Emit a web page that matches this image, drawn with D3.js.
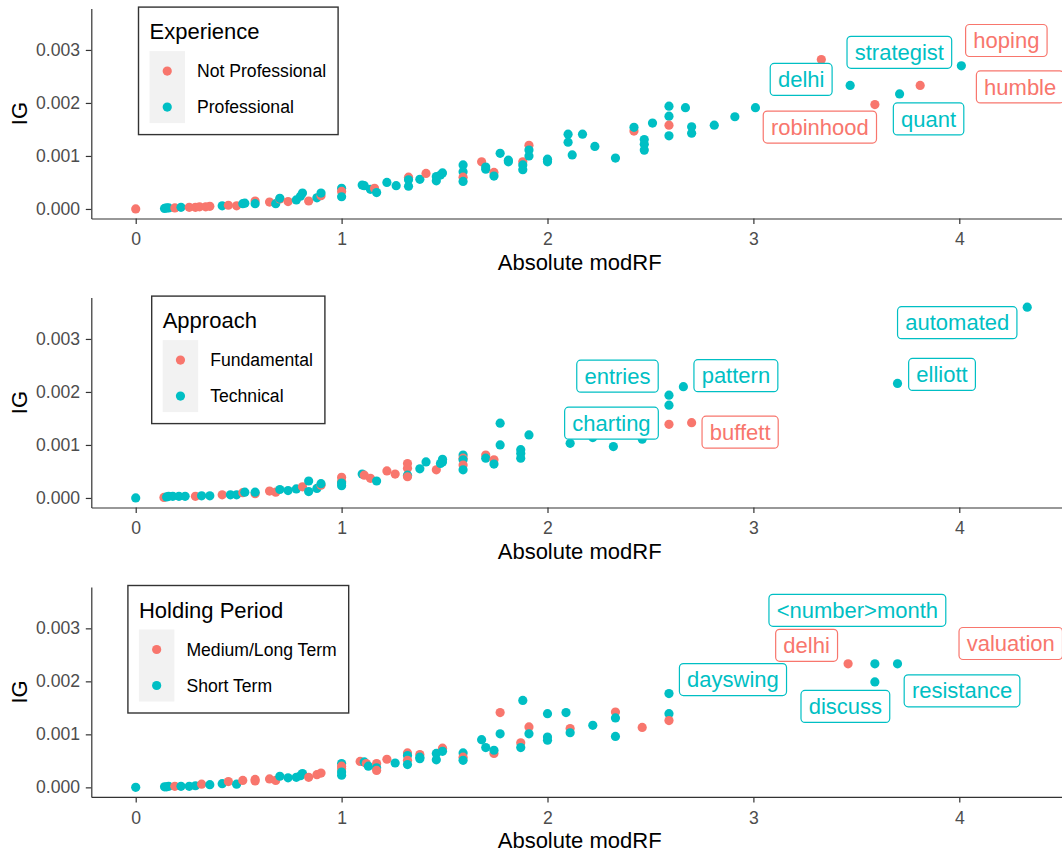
<!DOCTYPE html>
<html>
<head>
<meta charset="utf-8">
<script src="https://cdn.jsdelivr.net/npm/d3@7"></script>
<style>
  html, body { margin: 0; padding: 0; background: #fff; overflow: hidden; }
  svg { display: block; font-family: "Liberation Sans", Arial, Helvetica, sans-serif; }
</style>
</head>
<body>
<svg id="chart" width="1062" height="854"></svg>
<script>
// ---------- shared axis ticks ----------
const xTicks = [0, 1, 2, 3, 4];
const yTicks = [0, 0.001, 0.002, 0.003];
const groupColours = ["#F8766D", "#00BFC4"];

// ---------- panel 1: Experience ----------
const p1Title = "Experience";
const p1Categories = ["Not Professional", "Professional"];
const p1ModRF = [0, 0.14, 0.15, 0.16, 0.19, 0.22, 0.26, 0.29, 0.31, 0.34, 0.36, 0.42, 0.45, 0.49, 0.52, 0.53,
  0.58, 0.58, 0.65, 0.68, 0.70, 0.70, 0.74, 0.78, 0.80, 0.81, 0.84, 0.88, 0.90, 0.90, 1.0, 1.0, 1.0,
  1.10, 1.11, 1.14, 1.16, 1.17, 1.22, 1.265, 1.325, 1.325, 1.325, 1.38, 1.41, 1.46, 1.46, 1.48, 1.49,
  1.59, 1.59, 1.59, 1.59, 1.68, 1.70, 1.70, 1.74, 1.74, 1.77, 1.81, 1.81, 1.88, 1.88, 1.88, 1.91, 1.91, 1.91,
  2.0, 2.0, 2.10, 2.10, 2.12, 2.17, 2.23, 2.33, 2.42, 2.42, 2.47, 2.47, 2.47, 2.51, 2.59, 2.59, 2.59, 2.59,
  2.67, 2.70, 2.70, 2.81, 2.91, 3.01];
const p1IG = [0, 0.00001, 0.00002, 0.00002, 0.00002, 0.00003, 0.00003, 0.00003, 0.00004, 0.00004, 0.00005, 0.00006, 0.00007, 0.00006, 0.00010, 0.00011,
  0.00015, 0.00010, 0.00013, 0.00010, 0.00019, 0.00020, 0.00014, 0.00017, 0.00024, 0.00030, 0.00015, 0.00021, 0.00025, 0.00030, 0.00039, 0.00033, 0.00023,
  0.00045, 0.00044, 0.00037, 0.00039, 0.00031, 0.00050, 0.00044, 0.00060, 0.00055, 0.00043, 0.00056, 0.00067, 0.00061, 0.00053, 0.00064, 0.00068,
  0.00083, 0.00070, 0.00060, 0.00052, 0.00089, 0.00079, 0.00075, 0.00069, 0.00062, 0.00105, 0.00092, 0.00089, 0.00089, 0.00083, 0.00074, 0.00120, 0.00111, 0.00100,
  0.00094, 0.00089, 0.00141, 0.00126, 0.00102, 0.00141, 0.00118, 0.00096, 0.00147, 0.00154, 0.00131, 0.00122, 0.00111, 0.00162, 0.00194, 0.00175, 0.00158, 0.00138,
  0.00191, 0.00155, 0.00143, 0.00158, 0.00174, 0.00191];
const p1Group = [0, 1, 1, 1, 0, 1, 0, 0, 0, 0, 0, 1, 0, 0, 1, 1,
  0, 1, 0, 1, 0, 1, 0, 1, 1, 1, 0, 1, 0, 1, 1, 0, 1,
  1, 1, 1, 0, 1, 1, 1, 0, 1, 1, 1, 0, 1, 1, 1, 1,
  1, 1, 0, 1, 0, 1, 1, 0, 1, 1, 1, 1, 0, 1, 1, 0, 1, 1,
  1, 1, 1, 1, 1, 1, 1, 1, 0, 1, 1, 1, 1, 1, 1, 1, 0, 1,
  1, 1, 1, 1, 1, 1];
const p1Words = ["hoping", "delhi", "robinhood", "quant", "humble", "strategist"];
const p1WordModRF = [3.33, 3.47, 3.59, 3.71, 3.81, 4.01];
const p1WordIG = [0.00282, 0.00233, 0.00197, 0.00217, 0.00233, 0.00270];
const p1WordGroup = [0, 1, 0, 1, 0, 1];

// ---------- panel 2: Approach ----------
const p2Title = "Approach";
const p2Categories = ["Fundamental", "Technical"];
const p2ModRF = [0, 0.137, 0.15, 0.16, 0.18, 0.21, 0.24, 0.29, 0.32, 0.36, 0.42, 0.46, 0.49, 0.52, 0.53, 0.58, 0.58,
  0.65, 0.68, 0.70, 0.74, 0.78, 0.81, 0.84, 0.84, 0.88, 0.90, 0.90, 1.0, 1.0, 1.0, 1.0,
  1.10, 1.11, 1.14, 1.17, 1.22, 1.26, 1.32, 1.32, 1.32, 1.32, 1.38, 1.41, 1.46, 1.48, 1.49, 1.49,
  1.59, 1.59, 1.59, 1.59, 1.59, 1.70, 1.70, 1.74, 1.74, 1.77, 1.77, 1.87, 1.87, 1.87, 1.91,
  2.11, 2.22, 2.32, 2.46, 2.59];
const p2IG = [0, 0.00001, 0.00002, 0.00003, 0.00003, 0.00003, 0.00003, 0.00003, 0.00004, 0.00004, 0.00006, 0.00006, 0.00006, 0.00010, 0.00011, 0.00008, 0.00011,
  0.00013, 0.00011, 0.00016, 0.00014, 0.00017, 0.00021, 0.00032, 0.00012, 0.00018, 0.00024, 0.00027, 0.00039, 0.00031, 0.00028, 0.00023,
  0.00045, 0.00043, 0.00037, 0.00032, 0.00051, 0.00045, 0.00065, 0.00056, 0.00043, 0.00040, 0.00055, 0.00068, 0.00053, 0.00065, 0.00073, 0.00068,
  0.00081, 0.00075, 0.00072, 0.00062, 0.00053, 0.00081, 0.00075, 0.00072, 0.00064, 0.00141, 0.00100, 0.00091, 0.00084, 0.00075, 0.00119,
  0.00103, 0.00114, 0.00097, 0.00111, 0.00139];
const p2Group = [1, 0, 1, 1, 1, 1, 1, 0, 1, 1, 0, 1, 1, 0, 1, 0, 1,
  0, 0, 1, 1, 1, 0, 1, 1, 1, 0, 1, 0, 0, 1, 1,
  1, 0, 0, 1, 0, 0, 0, 0, 1, 0, 1, 1, 0, 1, 1, 1,
  1, 0, 1, 0, 1, 0, 1, 0, 1, 1, 1, 1, 1, 1, 1,
  1, 1, 1, 1, 0];
const p2Words = ["entries", "charting", "pattern", "buffett", "elliott", "automated"];
const p2WordModRF = [2.59, 2.59, 2.66, 2.70, 3.70, 4.33];
const p2WordIG = [0.00194, 0.00175, 0.00210, 0.00142, 0.00216, 0.00360];
const p2WordGroup = [1, 1, 1, 0, 1, 1];

// ---------- panel 3: Holding Period ----------
const p3Title = "Holding Period";
const p3Categories = ["Medium/Long Term", "Short Term"];
const p3ModRF = [0, 0.14, 0.15, 0.16, 0.19, 0.22, 0.26, 0.29, 0.32, 0.36, 0.42, 0.45, 0.49, 0.52, 0.58, 0.58,
  0.65, 0.68, 0.70, 0.74, 0.78, 0.80, 0.81, 0.84, 0.88, 0.90, 1.0, 1.0, 1.0, 1.0, 1.0,
  1.09, 1.11, 1.12, 1.13, 1.17, 1.17, 1.17, 1.22, 1.26, 1.32, 1.32, 1.32, 1.32, 1.38, 1.38, 1.38,
  1.46, 1.46, 1.49, 1.49, 1.59, 1.59, 1.59, 1.68, 1.70, 1.74, 1.74, 1.77, 1.77, 1.87, 1.87, 1.88,
  1.91, 1.91, 2.0, 2.0, 2.0, 2.09, 2.11, 2.11, 2.22, 2.33, 2.33, 2.33, 2.46, 2.59, 2.59];
const p3IG = [0, 0.00001, 0.00001, 0.00002, 0.00002, 0.00002, 0.00002, 0.00003, 0.00006, 0.00005, 0.00007, 0.00011, 0.00006, 0.00013, 0.00015, 0.00012,
  0.00016, 0.00013, 0.00021, 0.00018, 0.00019, 0.00022, 0.00026, 0.00019, 0.00024, 0.00027, 0.00045, 0.00040, 0.00035, 0.00029, 0.00023,
  0.00049, 0.00048, 0.00045, 0.00040, 0.00045, 0.00037, 0.00032, 0.00053, 0.00046, 0.00065, 0.00060, 0.00051, 0.00043, 0.00062, 0.00057, 0.00054,
  0.00064, 0.00052, 0.00074, 0.00068, 0.00065, 0.00057, 0.00051, 0.00090, 0.00075, 0.00064, 0.00070, 0.00141, 0.00101, 0.00084, 0.00075, 0.00164,
  0.00114, 0.00101, 0.00139, 0.00095, 0.00089, 0.00141, 0.00111, 0.00103, 0.00117, 0.00142, 0.00131, 0.00096, 0.00113, 0.00139, 0.00126];
const p3Group = [1, 1, 1, 1, 0, 1, 1, 1, 0, 1, 1, 0, 1, 0, 0, 0,
  0, 0, 1, 1, 1, 1, 1, 0, 0, 0, 1, 0, 0, 1, 1,
  0, 1, 0, 1, 0, 1, 0, 0, 1, 0, 1, 0, 1, 0, 1, 1,
  1, 1, 0, 1, 1, 0, 1, 1, 1, 0, 1, 0, 1, 0, 1, 1,
  0, 1, 1, 1, 1, 1, 0, 1, 1, 0, 1, 1, 0, 1, 0];
const p3Words = ["dayswing", "delhi", "<number>month", "discuss", "resistance", "valuation"];
const p3WordModRF = [2.59, 3.46, 3.59, 3.59, 3.70, 4.25];
const p3WordIG = [0.00177, 0.00233, 0.00233, 0.00199, 0.00233, 0.00262];
const p3WordGroup = [1, 0, 1, 1, 1, 0];

// ---------- layout (pixels) ----------
// offsets of each word label's centre from its point, as placed by the repel step
const labelOffsets = [
  { hoping: [185, -19], delhi: [-49, -6], robinhood: [-55, 22.5], quant: [29, 25], humble: [100, 1.5], strategist: [-62, -13.5] },
  { entries: [-51.5, -19], charting: [-57.5, 18], pattern: [52.5, -11], buffett: [48.5, 9.5], elliott: [44.5, -9], automated: [-70, 15.5] },
  { dayswing: [64, -14], delhi: [-41.5, -18.5], "<number>month": [-17.5, -53.5], discuss: [-29.5, 24.5], resistance: [64.5, 27], valuation: [0, -5] }
];
const panelTops = [8.6, 297.6, 587];
const panelHeight = 209.9;
const plotLeft = 91.3, plotRight = 1068;
const FONT_TICK = 17.6, FONT_TITLE = 22, FONT_LABEL = 22, FONT_LEGEND = 17.6;
const POINT_R = 4.6;

const panels = [
  { title: p1Title, cats: p1Categories, x: p1ModRF, y: p1IG, g: p1Group, words: p1Words, wx: p1WordModRF, wy: p1WordIG, wg: p1WordGroup },
  { title: p2Title, cats: p2Categories, x: p2ModRF, y: p2IG, g: p2Group, words: p2Words, wx: p2WordModRF, wy: p2WordIG, wg: p2WordGroup },
  { title: p3Title, cats: p3Categories, x: p3ModRF, y: p3IG, g: p3Group, words: p3Words, wx: p3WordModRF, wy: p3WordIG, wg: p3WordGroup }
];

const svg = d3.select("#chart");
const x = d3.scaleLinear().domain([-0.2157, 4.528]).range([plotLeft, plotRight]);
const colour = d3.scaleOrdinal().domain([0, 1]).range(groupColours);

panels.forEach((p, pi) => {
  const top = panelTops[pi];
  const bottom = top + panelHeight;
  const y = d3.scaleLinear().domain([-0.00018, 0.00378]).range([bottom, top]);
  const g = svg.append("g").attr("class", "panel");

  // x axis
  const xAxis = g.append("g")
    .attr("transform", `translate(0,${bottom})`)
    .call(d3.axisBottom(x).tickValues(xTicks).tickFormat(d3.format("d"))
      .tickSize(5.5).tickSizeOuter(0).tickPadding(8.7));
  // y axis
  const yAxis = g.append("g")
    .attr("transform", `translate(${plotLeft},0)`)
    .call(d3.axisLeft(y).tickValues(yTicks).tickFormat(d3.format(".3f"))
      .tickSize(5.5).tickSizeOuter(0).tickPadding(5.8));

  [xAxis, yAxis].forEach(a => {
    a.attr("font-family", null).attr("font-size", null);
    a.select(".domain").attr("stroke", "#333").attr("stroke-width", 1.2);
    a.selectAll(".tick line").attr("stroke", "#333").attr("stroke-width", 1.2);
    a.selectAll(".tick text").attr("fill", "#4d4d4d").style("font-size", FONT_TICK + "px");
  });

  // axis titles
  g.append("text")
    .attr("x", (plotLeft + plotRight) / 2).attr("y", bottom + 51.5)
    .attr("text-anchor", "middle").style("font-size", FONT_TITLE + "px").attr("fill", "#000")
    .text("Absolute modRF");
  g.append("text")
    .attr("transform", `translate(27,${(top + bottom) / 2}) rotate(-90)`)
    .attr("text-anchor", "middle").style("font-size", FONT_TITLE + "px").attr("fill", "#000")
    .text("IG");

  // points (unlabelled words, then labelled words)
  const pts = p.x.map((v, i) => ({ x: v, y: p.y[i], g: p.g[i] }));
  const wpts = p.words.map((w, i) => ({ word: w, x: p.wx[i], y: p.wy[i], g: p.wg[i] }));
  g.append("g").selectAll("circle").data(pts.concat(wpts)).join("circle")
    .attr("cx", d => x(d.x)).attr("cy", d => y(d.y)).attr("r", POINT_R)
    .attr("fill", d => colour(d.g));

  // word labels
  const lab = g.append("g").selectAll("g").data(wpts).join("g")
    .attr("transform", d => {
      const off = labelOffsets[pi][d.word];
      return `translate(${x(d.x) + off[0]},${y(d.y) + off[1]})`;
    });
  lab.append("text")
    .attr("text-anchor", "middle").attr("y", 7.6)
    .style("font-size", FONT_LABEL + "px").attr("fill", d => colour(d.g))
    .text(d => d.word);
  lab.each(function () {
    const grp = d3.select(this);
    const w = grp.select("text").node().getComputedTextLength() + 15.4;
    grp.insert("rect", "text")
      .attr("x", -w / 2).attr("y", -16).attr("width", w).attr("height", 32)
      .attr("rx", 4).attr("ry", 4)
      .attr("fill", "#fff").attr("stroke", d => colour(d.g)).attr("stroke-width", 1.2);
  });

  // legend
  const leg = g.append("g");
  const legTop = top - 1.5;
  const title = leg.append("text").attr("x", 11).attr("y", 32)
    .style("font-size", FONT_TITLE + "px").attr("fill", "#000").text(p.title);
  leg.append("rect").attr("x", 11).attr("y", 44).attr("width", 35.5).attr("height", 72).attr("fill", "#f2f2f2");
  const items = leg.selectAll("g.item").data(p.cats).join("g").attr("class", "item")
    .attr("transform", (d, i) => `translate(0,${44 + 20 + i * 36})`);
  items.append("circle").attr("cx", 11 + 17.75).attr("cy", 0).attr("r", POINT_R)
    .attr("fill", (d, i) => colour(i));
  items.append("text").attr("x", 58.5).attr("y", 6.3)
    .style("font-size", FONT_LEGEND + "px").attr("fill", "#000").text(d => d);
  let maxW = 0;
  items.selectAll("text").each(function () { maxW = Math.max(maxW, this.getComputedTextLength()); });
  const boxW = Math.max(58.5 + maxW + 12, 22 + title.node().getComputedTextLength());
  leg.insert("rect", ":first-child")
    .attr("x", 0).attr("y", 0).attr("width", boxW).attr("height", 127.5)
    .attr("fill", "#fff").attr("stroke", "#333").attr("stroke-width", 1.4);
  leg.attr("transform", `translate(${238.3 - boxW / 2},${legTop})`);
});
</script>
</body>
</html>
